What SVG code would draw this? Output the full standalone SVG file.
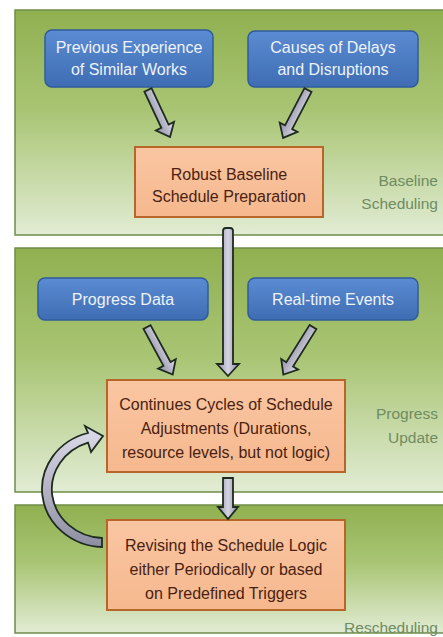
<svg xmlns="http://www.w3.org/2000/svg" width="443" height="637" viewBox="0 0 443 637">
<defs>
<linearGradient id="panelG" x1="0" y1="0" x2="0" y2="1">
<stop offset="0" stop-color="#90b050"/>
<stop offset="0.45" stop-color="#a9c574"/>
<stop offset="1" stop-color="#e2ecd4"/>
</linearGradient>
<linearGradient id="blueG" x1="0" y1="0" x2="0" y2="1">
<stop offset="0" stop-color="#5b8bd2"/>
<stop offset="1" stop-color="#3e6db3"/>
</linearGradient>
<linearGradient id="orangeG" x1="0" y1="0" x2="0" y2="1">
<stop offset="0" stop-color="#f9c6a2"/>
<stop offset="1" stop-color="#f6b88e"/>
</linearGradient>
<linearGradient id="arrowG" x1="0" y1="0" x2="0" y2="1">
<stop offset="0" stop-color="#dcdcea"/>
<stop offset="1" stop-color="#8e8ea2"/>
</linearGradient>
<linearGradient id="arrowV" x1="0" y1="0" x2="1" y2="0">
<stop offset="0" stop-color="#8e8ea2"/>
<stop offset="0.5" stop-color="#d4d4e4"/>
<stop offset="1" stop-color="#8e8ea2"/>
</linearGradient>
</defs>
<style>
.panel{fill:url(#panelG);stroke:#6f8d48;stroke-width:1.5}
.blue{fill:url(#blueG);stroke:#2f5c9c;stroke-width:1.5}
.orange{fill:url(#orangeG);stroke:#b8652a;stroke-width:2}
.bt{font-family:"Liberation Sans",Arial,sans-serif;font-size:16px;fill:#eef3fb;text-anchor:middle}
.ot{font-family:"Liberation Sans",Arial,sans-serif;font-size:16px;fill:#4a1e10;text-anchor:middle}
.lab{font-family:"Liberation Sans",Arial,sans-serif;font-size:15.5px;fill:#6f8c62;text-anchor:end}
.arr{fill:url(#arrowG);stroke:#1f2b1f;stroke-width:1.8;stroke-linejoin:miter}
.arrv{fill:url(#arrowV);stroke:#1f2b1f;stroke-width:1.8}
</style>
<rect width="443" height="637" fill="#ffffff"/>

<g id="panel-baseline">
<rect class="panel" x="15" y="10" width="440" height="225"/>
<text class="lab" x="438" y="186">Baseline</text>
<text class="lab" x="438" y="209">Scheduling</text>
</g>
<g id="panel-progress">
<rect class="panel" x="15" y="248" width="440" height="244"/>
<text class="lab" x="438" y="419">Progress</text>
<text class="lab" x="438" y="443">Update</text>
</g>
<g id="panel-rescheduling">
<rect class="panel" x="15" y="505" width="440" height="128"/>
<text class="lab" x="438" y="633">Rescheduling</text>
</g>

<g id="prev-exp">
<rect class="blue" x="45" y="30" width="168" height="57" rx="7"/>
<text class="bt" x="129" y="53">Previous Experience</text>
<text class="bt" x="129" y="75">of Similar Works</text>
</g>
<g id="causes">
<rect class="blue" x="248" y="31" width="170" height="56" rx="7"/>
<text class="bt" x="333" y="53">Causes of Delays</text>
<text class="bt" x="333" y="75">and Disruptions</text>
</g>
<g id="baseline-prep">
<rect class="orange" x="135" y="147" width="188" height="70"/>
<text class="ot" x="229" y="180">Robust Baseline</text>
<text class="ot" x="229" y="202">Schedule Preparation</text>
</g>
<g id="progress-data">
<rect class="blue" x="38" y="278" width="170" height="42" rx="7"/>
<text class="bt" x="123" y="305">Progress Data</text>
</g>
<g id="realtime">
<rect class="blue" x="248" y="278" width="170" height="42" rx="7"/>
<text class="bt" x="333" y="305">Real-time Events</text>
</g>
<g id="cycles">
<rect class="orange" x="107" y="380" width="238" height="92"/>
<text class="ot" x="226" y="410">Continues Cycles of Schedule</text>
<text class="ot" x="226" y="434">Adjustments (Durations,</text>
<text class="ot" x="226" y="458">resource levels, but not logic)</text>
</g>
<g id="revising">
<rect class="orange" x="107" y="520" width="238" height="90"/>
<text class="ot" x="226" y="551">Revising the Schedule Logic</text>
<text class="ot" x="226" y="575">either Periodically or based</text>
<text class="ot" x="226" y="599">on Predefined Triggers</text>
</g>

<g id="connectors">
<path class="arr" transform="translate(148,90) rotate(64.9)" d="M0,-4 L40,-4 L40,-10 L52,0 L40,10 L40,4 L0,4 Z"/>
<path class="arr" transform="translate(308,90) rotate(117.5)" d="M0,-4 L42,-4 L42,-10 L54,0 L42,10 L42,4 L0,4 Z"/>
<path class="arr" transform="translate(147,327) rotate(61.6)" d="M0,-4 L42,-4 L42,-10 L54,0 L42,10 L42,4 L0,4 Z"/>
<path class="arr" transform="translate(313,327) rotate(122)" d="M0,-4 L44,-4 L44,-10 L56,0 L44,10 L44,4 L0,4 Z"/>
<path class="arrv" d="M223,231 Q223,228 226,228 L230,228 Q233,228 233,231 L233,364 L239,364 L228,376 L217,364 L223,364 Z"/>
<path class="arrv" d="M223,478 L233,478 L233,507 L238,507 L228,519 L218,507 L223,507 Z"/>
<path class="arr" d="M102,547 A62,58 0 0 1 88,433 L85,426 L103,436 L91,452 L88,442.6 A53,49 0 0 0 102,538 Z"/>
</g>
</svg>
